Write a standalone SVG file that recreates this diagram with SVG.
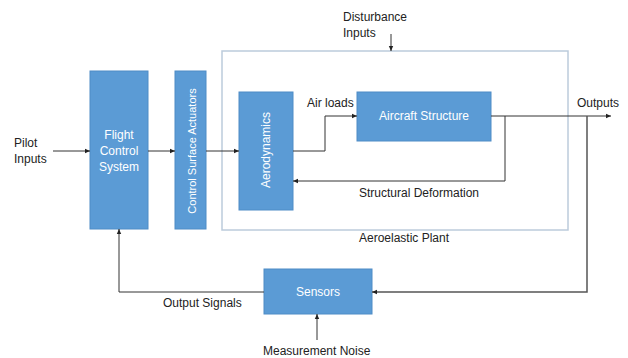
<svg xmlns="http://www.w3.org/2000/svg" width="628" height="358" viewBox="0 0 628 358">
<defs>
<marker id="ah" markerWidth="6" markerHeight="6" refX="5" refY="3" orient="auto" markerUnits="userSpaceOnUse">
<path d="M0,0.8 L5,3 L0,5.2 z" fill="#222"/>
</marker>
<style>
.box{fill:#5B9BD5;stroke:#4F8CC6;stroke-width:1}
.wt{font-family:"Liberation Sans",Arial,sans-serif;font-size:12px;fill:#fff}
.lb{font-family:"Liberation Sans",Arial,sans-serif;font-size:12px;fill:#222}
.ln{fill:none;stroke:#333;stroke-width:1}
.fb{fill:none;stroke:#555;stroke-width:1.5}
</style>
</defs>
<rect width="628" height="358" fill="#fff"/>
<g id="plant">
<rect x="222" y="51" width="346" height="179" fill="none" stroke="#BCCBDB" stroke-width="1.5"/>
<text class="lb" x="359" y="242">Aeroelastic Plant</text>
</g>
<g id="fcs">
<rect class="box" x="90" y="71" width="58" height="158"/>
<text class="wt" text-anchor="middle" x="119" y="139">Flight</text>
<text class="wt" text-anchor="middle" x="119" y="155">Control</text>
<text class="wt" text-anchor="middle" x="119" y="171">System</text>
</g>
<g id="csa">
<rect class="box" x="175" y="71" width="31" height="158"/>
<text class="wt" text-anchor="middle" style="font-size:11px" transform="translate(196,151) rotate(-90)">Control Surface Actuators</text>
</g>
<g id="aero">
<rect class="box" x="239" y="92" width="54" height="118"/>
<text class="wt" text-anchor="middle" transform="translate(270,150) rotate(-90)">Aerodynamics</text>
</g>
<g id="structure">
<rect class="box" x="357" y="92" width="134" height="49"/>
<text class="wt" text-anchor="middle" x="424" y="120">Aircraft Structure</text>
</g>
<g id="sensors">
<rect class="box" x="264" y="269" width="108" height="45"/>
<text class="wt" text-anchor="middle" x="318" y="296">Sensors</text>
</g>
<g id="labels">
<text class="lb" x="14" y="147">Pilot</text>
<text class="lb" x="14" y="163">Inputs</text>
<text class="lb" x="343" y="21">Disturbance</text>
<text class="lb" x="343" y="37">Inputs</text>
<text class="lb" x="307" y="107">Air loads</text>
<text class="lb" x="577" y="107">Outputs</text>
<text class="lb" x="359" y="197">Structural Deformation</text>
<text class="lb" x="163" y="307">Output Signals</text>
<text class="lb" x="263" y="355">Measurement Noise</text>
</g>
<g id="connectors">
<line class="ln" x1="53" y1="151" x2="90" y2="151" marker-end="url(#ah)"/>
<line class="ln" x1="148" y1="151" x2="175" y2="151" marker-end="url(#ah)"/>
<line class="ln" x1="206" y1="151" x2="239" y2="151" marker-end="url(#ah)"/>
<polyline class="ln" points="293,151 325,151 325,116 357,116" marker-end="url(#ah)"/>
<line class="ln" x1="491" y1="116" x2="611" y2="116" marker-end="url(#ah)"/>
<polyline class="ln" points="505,116 505,181 293,181" marker-end="url(#ah)"/>
<polyline class="fb" points="587,116 587,292 372,292" marker-end="url(#ah)"/>
<polyline class="ln" points="264,292 119,292 119,229" marker-end="url(#ah)"/>
<line class="ln" x1="317" y1="340" x2="317" y2="314" marker-end="url(#ah)"/>
<line class="ln" x1="391" y1="34" x2="391" y2="51" marker-end="url(#ah)"/>
</g>
</svg>
